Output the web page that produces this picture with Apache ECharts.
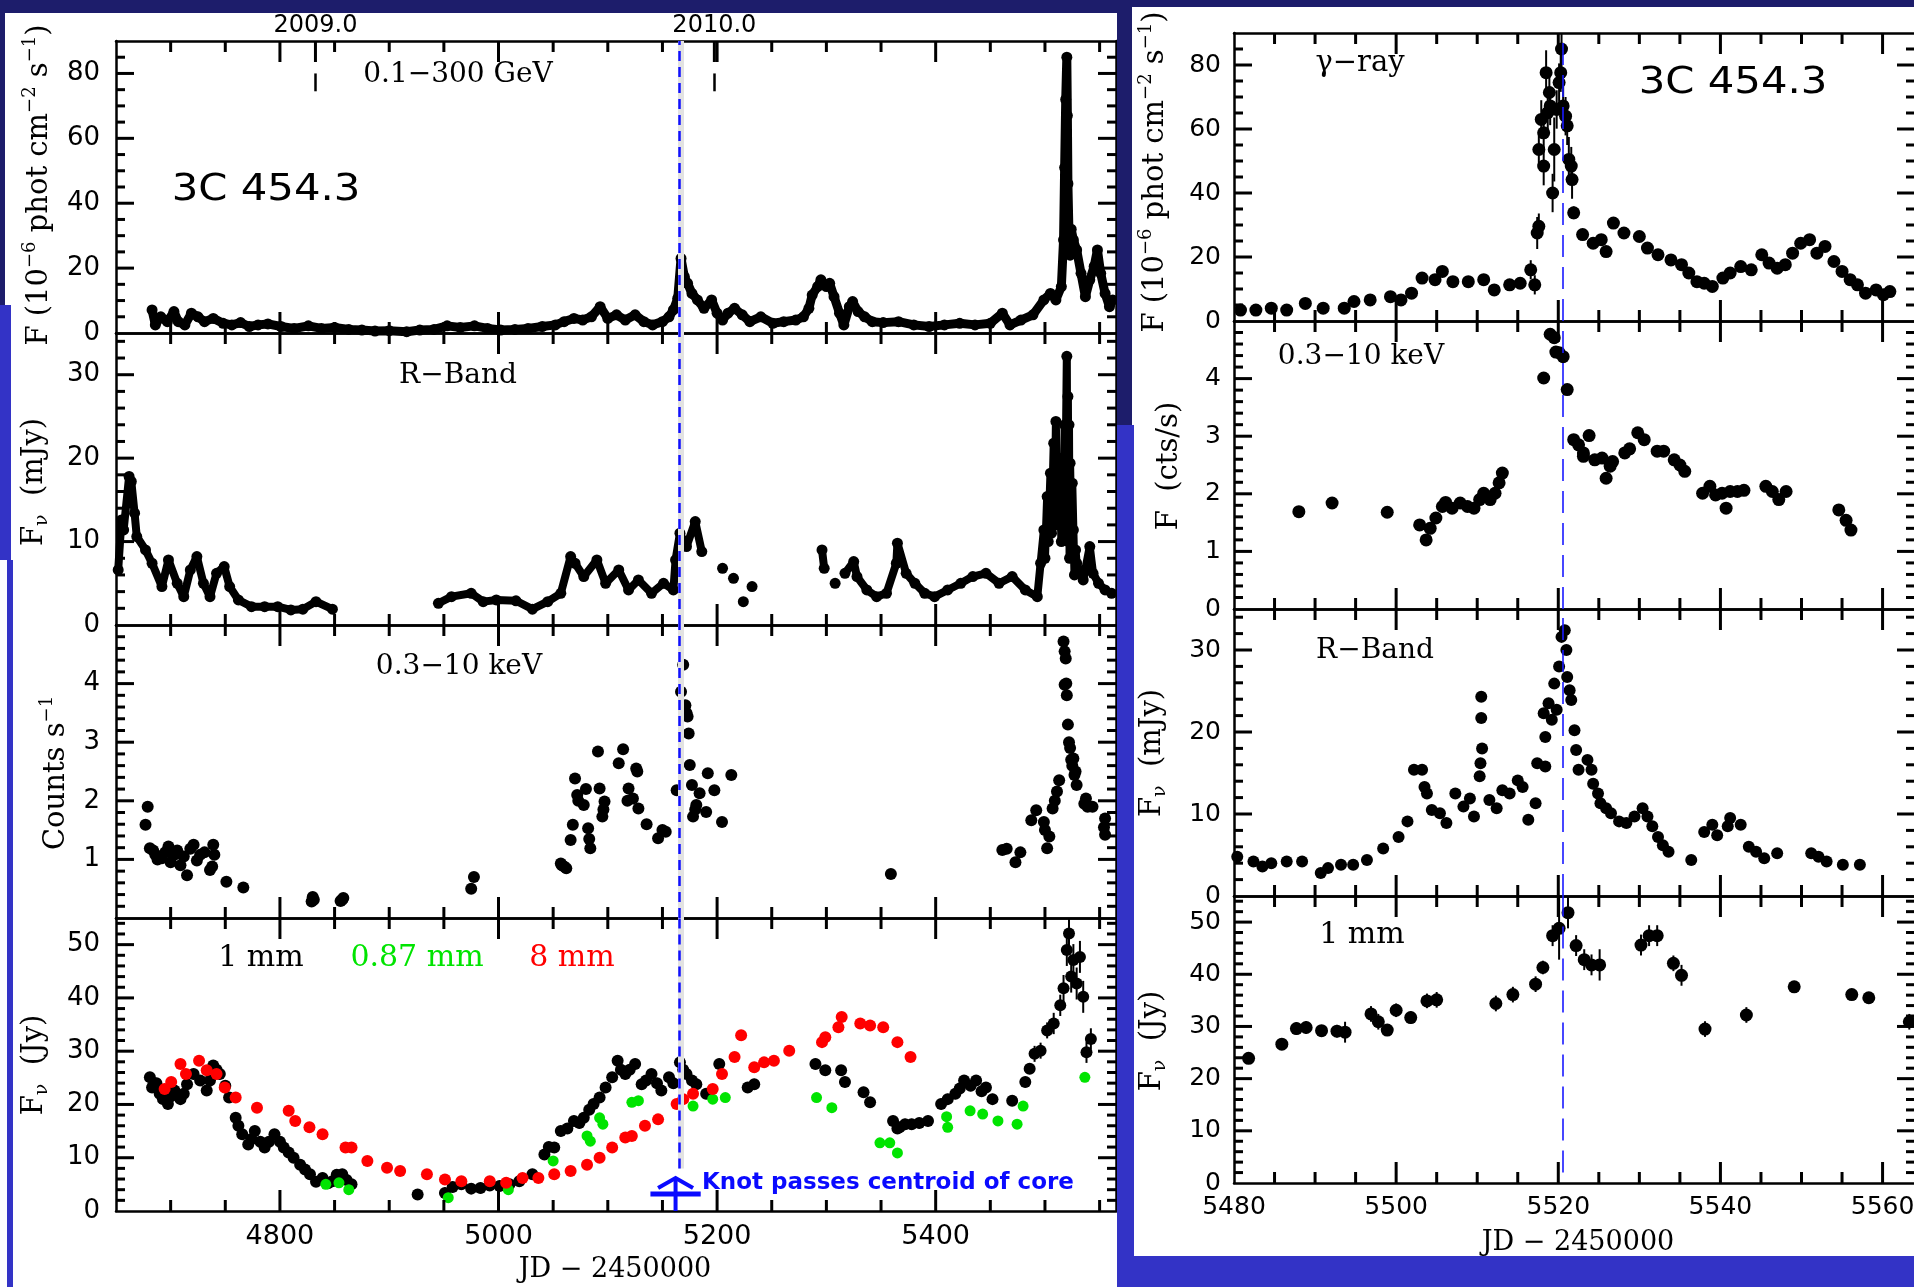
<!DOCTYPE html>
<html>
<head>
<meta charset="utf-8">
<title>3C 454.3 light curves</title>
<script src="https://cdn.jsdelivr.net/npm/echarts@6.0.0/dist/echarts.min.js"></script>
<style>
html,body{margin:0;padding:0;background:#ffffff;}
#chart{width:1914px;height:1287px;}
</style>
</head>
<body>
<div id="chart"></div>
<script>
// ================= DATA =================
const knotLeftJD = 5165;
const knotRightJD = 5520.5;
const yearTicksJD = [4832.5, 5197.5];
const yearLabels = ['2009.0', '2010.0'];

const leftXLabels = [4800, 5000, 5200, 5400];
const rightXLabels = [5480, 5500, 5520, 5540, 5560];
const gammaYLabels = [0, 20, 40, 60, 80];
const rbandYLabels = [0, 10, 20, 30];
const xrayLeftYLabels = [1, 2, 3, 4];
const xrayRightYLabels = [0, 1, 2, 3, 4];
const mmYLabels = [0, 10, 20, 30, 40, 50];

const gammaLeft = [[4683,7.1],[4686,2.5],[4691,5],[4697,3.5],[4703,6.6],[4707,3.5],[4713,2.5],[4719,6.1],[4725,5],[4731,3.5],[4739,4.5],[4748,3],[4756,2.5],[4764,3.2],[4772,2],[4780,2.5],[4789,2.8],[4801,2],[4813,1.4],[4826,2.2],[4838,1.4],[4850,1.7],[4863,1.1],[4875,0.9],[4887,0.6],[4900,0.7],[4916,0.4],[4928,0.9],[4941,1.1],[4953,2.2],[4965,1.7],[4978,2.2],[4990,1.4],[5002,0.9],[5015,1.1],[5027,1.4],[5040,2],[5052,2.5],[5060,3.5],[5069,4.5],[5077,4],[5085,5],[5093,8.1],[5100,4.5],[5108,5.6],[5116,4],[5125,5.6],[5133,3.5],[5141,2.5],[5150,3.5],[5156,5],[5160,7.1],[5164,10.7],[5167,23],[5170,17.4],[5173,15.3],[5177,12.2],[5182,10.2],[5188,7.6],[5195,10.2],[5200,6.1],[5205,4],[5210,6.1],[5216,7.6],[5223,5.6],[5230,3.5],[5240,5],[5251,3],[5261,3.5],[5272,4],[5279,5],[5284,7.6],[5287,11.7],[5292,14.3],[5295,16.4],[5300,14.3],[5303,15.3],[5307,11.2],[5312,6.1],[5316,2.5],[5321,8.1],[5324,9.7],[5329,6.6],[5335,5],[5342,3.5],[5352,3.2],[5366,3.5],[5380,2.5],[5394,2],[5408,2.5],[5422,3],[5436,2.5],[5450,3],[5461,6.1],[5468,2.5],[5478,4],[5489,5.6],[5499,10.2],[5505,12.2],[5510,10.2],[5515,14.3],[5517,28.7],[5518,51],[5519,72],[5520,85],[5520.5,67],[5521,46],[5522,30],[5523,24],[5524,32],[5526,28.7],[5529,25.6],[5533,18.4],[5537,11.2],[5541,16.4],[5545,20.5],[5548,25.6],[5551,18.4],[5555,12.2],[5559,8.1],[5562,10.2]];

const rbandLeft = [[4652,6.6],[4655,12.6],[4657,11.4],[4662,17.8],[4664,17.2],[4667,13.4],[4669,10.6],[4677,9],[4683,7.4],[4692,4.6],[4698,7.8],[4706,5],[4712,3.4],[4718,6.6],[4724,8.2],[4730,5],[4736,3.4],[4742,6.2],[4749,7],[4754,4.6],[4762,3],[4774,2.2],[4786,2.2],[4798,2.2],[4810,1.8],[4821,1.9],[4833,2.8],[4848,1.9],[4900,null],[4945,2.6],[4957,3.4],[4975,3.8],[4986,2.8],[4998,3],[5016,2.9],[5031,1.9],[5045,2.8],[5057,3.8],[5066,8.2],[5070,7.4],[5078,5.8],[5090,7.8],[5098,5],[5110,6.6],[5119,4.2],[5128,5.4],[5140,3.8],[5151,5],[5160,4.2],[5162,7.8],[5166,11],[5172,9.4],[5180,12.4],[5186,8.8],[5195,null],[5205,6.8],[5210,null],[5215,5.6],[5220,null],[5224,2.8],[5228,null],[5232,4.6],[5260,null],[5296,9],[5298,6.8],[5303,null],[5308,5],[5312,null],[5317,6.2],[5325,7.6],[5328,5.8],[5337,4.2],[5346,3.4],[5355,3.8],[5364,7.4],[5365,9.8],[5373,6.2],[5381,5],[5390,3.8],[5399,3.4],[5411,4.2],[5423,5],[5434,5.8],[5446,6.2],[5458,5],[5470,5.8],[5482,4.2],[5493,3.4],[5496,7.4],[5499,11.4],[5500,8],[5502,15.4],[5503,10],[5505,18.2],[5506,11],[5508,21.8],[5509,13],[5510,24.4],[5511,12],[5512,14],[5513,20],[5514,16.2],[5515,10],[5516,18],[5517,13],[5518,24],[5519,20],[5520,32.2],[5520.5,12],[5521,27.4],[5521.5,10],[5522,24],[5522.5,8],[5523,19.4],[5524,12],[5525,17],[5526,11.4],[5527,6],[5528,9],[5529,7.4],[5535,5.4],[5541,9.4],[5544,6.2],[5549,5],[5555,4.2],[5561,3.8]];

const xrayLeft = [[4677,1.59],[4679,1.9],[4681,1.19],[4684,1.15],[4686,1.08],[4688,1.0],[4692,1.02],[4695,1.12],[4698,1.22],[4700,0.95],[4703.5,1.08],[4706,1.15],[4709,0.9],[4712,1.05],[4715,0.73],[4718,1.18],[4721,1.25],[4724,0.98],[4727,1.08],[4731,1.12],[4736,0.82],[4739,1.25],[4740,1.08],[4738,0.88],[4751,0.62],[4766.5,0.52],[4829,0.28],[4830,0.36],[4831,0.31],[4855.5,0.29],[4858,0.34],[4857,0.31],[4975,0.5],[4977.5,0.7],[5057,0.93],[5058,0.9],[5060,0.88],[5062,0.85],[5066,1.33],[5068,1.59],[5072,2.1],[5070,2.38],[5073,2.0],[5078,1.93],[5080,2.2],[5082,1.53],[5084,1.19],[5083,1.35],[5091,2.84],[5092.5,2.21],[5097,1.99],[5095,1.73],[5096,1.85],[5110,2.64],[5114,2.88],[5119,2.21],[5118,2.0],[5123,2.04],[5127,2.5],[5126,2.55],[5128,1.87],[5135.5,1.6],[5146,1.36],[5153,1.47],[5150,1.5],[5163,2.18],[5167,3.86],[5169,4.32],[5171,3.63],[5172,3.5],[5173,3.44],[5174,3.15],[5175,2.61],[5177,2.27],[5181,1.93],[5184,2.13],[5178,1.73],[5180,1.85],[5190,1.81],[5191.5,2.47],[5197.5,2.18],[5204.5,1.64],[5213,2.44],[5359,0.75],[5461,1.16],[5465,1.18],[5473,0.95],[5477.5,1.12],[5487.5,1.67],[5492,1.84],[5499,1.64],[5500,1.5],[5502,1.19],[5504,1.39],[5507,1.87],[5509,2.0],[5511,2.16],[5513,2.35],[5517,4.72],[5518,4.55],[5519,4.43],[5518,3.98],[5519.5,4.0],[5520,3.8],[5521,3.3],[5522,3.0],[5523,2.9],[5524,2.7],[5526,2.72],[5527,2.44],[5529,2.27],[5528,2.5],[5525,2.6],[5537.5,2.04],[5536,1.95],[5539,1.9],[5543.5,1.9],[5555,1.7],[5555,1.42],[5554,1.55]];

const mm1Left = [[4681,25.1,1],[4683,23.2,1],[4687,24.0,1],[4690,22.0,1],[4693,21.0,1],[4697.5,20.1,1],[4700,21.5,1],[4703.5,22.6,1],[4709,21,1],[4712,22,1],[4715,23.8,1],[4721,25.7,1],[4727,24.5,1],[4733,22.6,1],[4736,24.5,1],[4739,27.3,1],[4742,26.5,1],[4745,25.7,1],[4750,23.5,1],[4753.5,21.3,1],[4759.5,17.5,1],[4762,16,1],[4765.5,14.4,1],[4771,12.5,1],[4774,13.5,1],[4777,15,1],[4782,13,1],[4786,11.9,1],[4790,13,1],[4795,14.4,1],[4800,13,1],[4803.5,11.9,1],[4808,11,1],[4812.5,10,1],[4818.5,8.7,1],[4823,7.8,1],[4827.5,6.9,1],[4833,5.5,1],[4839,6.2,1],[4844,5.2,1],[4848,5.6,1],[4852,6.8,1],[4857,6.9,1],[4861,5.8,1],[4865.5,5,1],[4926,3.1,1],[4951,3.4,1],[4958,4.5,1],[4966,5,1],[4975,4.2,1],[4983.5,4.3,1],[4992,4.8,1],[5001,4.7,1],[5010,5,1],[5019,5.6,1],[5031,6.9,1],[5042,10.6,1],[5046,12,1],[5051,11.9,1],[5057,15,1],[5063,15.5,1],[5069,16.9,1],[5074,16.5,1],[5078,17.5,1],[5083,19,1],[5087,20.1,1],[5092.5,21.3,1],[5098,23.2,1],[5104,25.1,1],[5109,28.2,1],[5112,26.5,1],[5116,25.7,1],[5120,26.5,1],[5125,27.6,1],[5131,23.8,1],[5135,24.5,1],[5140,25.7,1],[5145,24,1],[5149,22.6,1],[5156,25.1,1],[5160,24.0,1],[5166,27.9,1],[5169,26.5,1],[5172,25.7,1],[5177,24.5,1],[5181,23.8,1],[5190,22,1],[5202,27.6,1],[5228,23.2,1],[5234,23.8,1],[5290,27.6,1],[5299,26.4,1],[5313.5,26.4,1],[5317,24.2,1],[5334,22.3,1],[5340,20.4,1],[5361,16.9,1],[5365,15.5,1],[5367,15.7,1],[5372,16.3,1],[5378,16.3,1],[5385,16.5,1],[5393,16.9,1],[5405,20.1,1],[5411,21,1],[5418,22,1],[5422,23,1],[5426,24.5,1],[5432,23.5,1],[5437,24.5,1],[5442,22.5,1],[5446,23.2,1],[5452,21,1],[5470,20.7,1],[5482,24.2,1],[5486,26.7,1],[5490.5,29.5,1.5],[5496,30.1,1.5],[5502,33.9,1.5],[5508,35.2,2],[5514,38.6,2],[5517,41.8,2.5],[5520,49,3],[5522,52.1,3],[5524,44,3],[5526,47.1,3],[5529,42.7,3],[5532,47.7,3],[5535,40.2,3],[5538,29.8,2],[5542,32.3,2]];

const mm087Left = [[4842,5],[4854,5.3],[4863,4],[4954,2.5],[5009,4],[5050,9.4],[5081,14.1],[5084,13.1],[5092.5,17.5],[5095.5,16.3],[5122,20.4],[5128,20.7],[5178,19.7],[5196,21],[5207.5,21.3],[5291,21.3],[5305,19.4],[5349,12.8],[5358,12.8],[5365,10.9],[5410,17.7],[5411,15.7],[5431.5,18.8],[5443,18.2],[5457,16.9],[5474.5,16.3],[5480,19.7],[5536.5,25.1]];

const mm8Left = [[4694.5,22.9],[4700.5,24.2],[4709,27.6],[4714,25.7],[4726,28.2],[4733,26.4],[4742,25.7],[4749.5,23.2],[4759.5,21.3],[4779,19.4],[4808,18.8],[4814,16.9],[4827,15.7],[4839,14.4],[4860,11.9],[4865.5,11.9],[4880,9.4],[4898,8.1],[4910,7.5],[4934.5,6.9],[4951,5.9],[4966,5.6],[4992,5.6],[5007,5.3],[5022,6.2],[5036.5,6.2],[5051,6.9],[5066,7.5],[5081,8.7],[5092.5,10],[5104,11.9],[5116,13.8],[5122,14.1],[5134,16],[5146,17.2],[5163,20.1],[5169,21],[5178,22],[5196,22.9],[5204.5,25.7],[5216,28.9],[5222,33],[5234,27],[5243,27.9],[5252,28.2],[5266,30.1],[5296,31.7],[5299,32.6],[5311,34.5],[5314,36.4],[5331,35.2],[5340,34.8],[5352,34.5],[5365,31.7],[5377,28.9]];

const gammaRight = [[5480.8,3.4,0.5],[5482.7,3.4,0.5],[5484.6,4,0.5],[5486.5,3.4,0.5],[5488.8,5.5,0.5],[5491,4,0.5],[5493.6,4,0.5],[5494.8,6.1,0.5],[5496.8,6.6,0.5],[5499.3,7.6,0.5],[5500.6,6.6,0.5],[5501.9,8.7,1],[5503.2,13.4,1],[5504.8,12.9,1],[5505.7,15.5,1],[5507,12.3,1],[5508.9,12.3,1],[5510.8,12.9,1],[5512.1,9.7,1],[5514,11.3,1],[5515.3,11.8,1],[5516.6,16,3],[5517.1,11.3,3],[5517.4,27.5,5],[5517.6,29.6,4],[5517.6,53.6,6],[5517.9,63,6],[5518.2,48.4,6],[5518.2,58.8,6],[5518.5,77.6,7],[5518.7,65.1,6],[5518.9,71.4,7],[5519,67.2,6],[5519.3,40,6],[5519.5,53.6,10],[5519.8,66.1,6],[5520.1,74.5,6],[5520.3,77.6,6],[5520.4,85,8],[5520.6,67.2,6],[5520.9,64,6],[5521.1,61,6],[5521.3,50.5,7],[5521.6,48.4,6],[5521.7,44.2,6],[5521.9,33.8,2],[5523,27,1],[5524.3,24.3,1],[5525.3,25.4,1],[5525.9,21.7,1],[5526.8,30.6,1],[5528.1,27.5,1],[5530,26.4,1],[5531,22.8,1],[5532.3,20.7,1],[5533.9,19.1,1],[5535.2,17.6,1],[5536.1,15,1],[5537.1,12.3,1],[5538,11.8,1],[5539,10.8,1],[5540.3,13.4,1],[5541.2,15,1],[5542.5,17,1],[5543.8,16,1],[5545.1,20.7,1],[5546,18.1,1],[5547,16.5,1],[5548,17.6,1],[5548.9,21.2,1],[5549.9,24.3,1],[5551,25.4,1],[5551.9,21.2,1],[5552.9,23.3,1],[5554,18.6,1],[5555,15.5,1],[5556,12.9,1],[5556.9,11.3,1],[5557.9,8.7,1],[5559.2,9.7,1],[5560.1,8.2,1],[5560.9,9.2,1]];

const xrayRight = [[5488,1.69],[5492.1,1.84],[5498.9,1.68],[5502.9,1.46],[5503.7,1.2],[5504.2,1.4],[5504.9,1.58],[5505.7,1.78],[5506.1,1.85],[5506.9,1.75],[5507.9,1.84],[5508.8,1.78],[5509.6,1.75],[5510.3,1.9],[5510.8,2.01],[5511.6,1.9],[5512.2,2.01],[5512.7,2.19],[5513.1,2.36],[5518.2,4.01],[5519,4.77],[5519.5,4.71],[5519.7,4.46],[5520.1,4.45],[5520.6,4.38],[5521.1,3.81],[5521.9,2.94],[5522.5,2.85],[5523.1,2.71],[5523.8,3.01],[5523.1,2.65],[5524.5,2.59],[5525.4,2.62],[5525.9,2.27],[5526.4,2.48],[5526.7,2.56],[5528.2,2.71],[5528.8,2.78],[5529.8,3.06],[5530.6,2.94],[5532.2,2.74],[5533,2.74],[5534.3,2.59],[5535,2.5],[5535.6,2.39],[5537.8,2.01],[5538.7,2.13],[5539.4,1.98],[5540.2,2.01],[5540.7,1.75],[5541.2,2.04],[5542.1,2.04],[5542.9,2.06],[5545.6,2.13],[5546.4,2.04],[5547.2,1.9],[5548.1,2.04],[5554.6,1.72],[5555.5,1.54],[5556.1,1.37]];

const rbandRight = [[5480.4,4.8],[5482.4,4.2],[5483.5,3.6],[5484.6,4],[5486.5,4.2],[5488.4,4.2],[5490.7,2.8],[5491.6,3.4],[5493.2,3.8],[5494.7,3.8],[5496.4,4.4],[5498.4,5.8],[5500.3,7.2],[5501.4,9.1],[5502.2,15.4],[5503.2,15.4],[5503.5,13.3],[5503.8,12.5],[5504.4,10.5],[5505.4,10.1],[5506.2,8.9],[5507.3,12.5],[5508.3,10.9],[5509.1,11.9],[5509.6,9.7],[5510.5,24.3],[5510.5,21.7],[5510.6,18],[5510.4,16.2],[5510.3,14.6],[5511.5,11.7],[5512.4,10.7],[5513.1,12.9],[5514,12.5],[5515,14.1],[5515.6,13.3],[5516.3,9.3],[5517.2,11.3],[5517.4,16.2],[5518.4,15.8],[5518.2,22.3],[5518.4,19.4],[5518.8,23.5],[5519.2,21.5],[5519.5,25.9],[5519.8,22.7],[5520.1,28],[5520.4,31.6],[5520.8,32.4],[5521,30],[5521.1,26.7],[5521.4,25.1],[5521.6,23.9],[5522,20.2],[5522.2,17.8],[5522.5,15.4],[5523.6,16.6],[5524.1,15.4],[5524.3,13.7],[5524.9,12.5],[5525.2,11.3],[5525.9,10.7],[5526.5,10.1],[5527.5,9.1],[5528.4,8.9],[5529.4,9.7],[5530.4,10.7],[5531,9.7],[5531.6,8.5],[5532.3,7.2],[5532.9,6.2],[5533.6,5.4],[5536.4,4.4],[5538,7.8],[5539,8.7],[5539.6,7.4],[5540.9,8.5],[5541.2,9.5],[5542.5,8.7],[5543.5,6],[5544.4,5.4],[5545.4,4.6],[5547,5.2],[5551.2,5.2],[5552.1,4.8],[5553.1,4.2],[5555.1,3.8],[5557.2,3.8]];

const mm1Right = [[5481.8,23.9,1],[5485.9,26.6,1],[5487.7,29.6,1.2],[5488.9,29.8,1.2],[5490.8,29.2,1],[5492.7,29.1,1.2],[5493.7,28.9,2],[5496.9,32.4,1.5],[5497.8,30.9,1.5],[5498.9,29.3,1],[5500,33.1,1.3],[5501.8,31.7,1.2],[5503.8,34.9,1.4],[5505,35.1,1.5],[5512.3,34.4,1.5],[5514.4,36.1,1.5],[5517.2,38.1,1.5],[5518.1,41.3,1.3],[5519.3,47.4,2],[5520.1,48.8,6],[5521.2,51.8,3],[5522.2,45.5,2],[5523.2,42.8,2],[5524.1,41.8,2],[5525.1,41.8,3],[5530.2,45.6,2],[5531.2,47.4,2],[5532.2,47.4,2],[5534.2,42.1,1.5],[5535.2,39.8,2],[5538.1,29.5,1.5],[5543.2,32.2,1.5],[5549.1,37.6,1],[5556.2,36.1,1],[5558.3,35.5,1],[5563.3,30.9,1.5]];

const knotArrow = [[5162, 6.2]];

// ================= LAYOUT / STYLE =================
const SERIF = 'DejaVu Serif';
const SANS = 'DejaVu Sans';
const BLACK = '#000000';
const GREEN = '#00e400';
const RED = '#ff0000';
const KBLUE = '#1010ff';
const NAVY = '#1d1d6b';
const FRAME_BLUE = '#3333c6';

function range(a, b, s) {
  const out = []; const n = Math.round((b - a) / s);
  for (let i = 0; i <= n; i++) out.push(+(a + i * s).toFixed(4));
  return out;
}

const gridBoxes = [
  {left: 116, top: 41,  width: 1000, height: 292},
  {left: 116, top: 333, width: 1000, height: 292},
  {left: 116, top: 625, width: 1000, height: 293},
  {left: 116, top: 918, width: 1000, height: 293},
  {left: 1234, top: 33,  width: 681, height: 288},
  {left: 1234, top: 321, width: 681, height: 288},
  {left: 1234, top: 609, width: 681, height: 287},
  {left: 1234, top: 896, width: 681, height: 287}
];
const grids = gridBoxes.map(g => Object.assign({containLabel: false, outerBoundsMode: 'none', show: false}, g));

const LX = {min: 4650, max: 5565, minor: range(4700, 5550, 50), major: leftXLabels};
const RX = {min: 5480, max: 5564, minor: range(5485, 5560, 5), major: [5500, 5520, 5540, 5560]};

const Y = {
  gamma: {min: 0, max: 90, minor: range(5, 85, 5), major: [20, 40, 60, 80], labels: gammaYLabels},
  rband: {min: 0, max: 35, minor: range(2, 34, 2), major: [10, 20, 30], labels: rbandYLabels},
  xrayL: {min: 0, max: 5, minor: range(0.2, 4.8, 0.2), major: [1, 2, 3, 4], labels: xrayLeftYLabels},
  xrayR: {min: 0, max: 5, minor: range(0.2, 4.8, 0.2), major: [1, 2, 3, 4], labels: xrayRightYLabels},
  mm: {min: 0, max: 55, minor: range(2, 54, 2), major: [10, 20, 30, 40, 50], labels: mmYLabels}
};
const TICK = {xMinor: 11, xMajor: 21, yMinor: 9, yMajor: 18, w: 3};

const lineSt = {color: BLACK, width: 2.5};
const plain = v => String(v);

function xAxesFor(gi, X, labels, labelSize, yearTop) {
  const base = {type: 'value', gridIndex: gi, min: X.min, max: X.max, splitLine: {show: false}, axisTick: {show: false}};
  return [
    Object.assign({}, base, {position: 'bottom',
      axisLine: {show: true, onZero: false, lineStyle: lineSt},
      axisLabel: labels ? {show: true, customValues: labels, formatter: plain, fontSize: labelSize, fontFamily: SANS, color: BLACK, margin: 12} : {show: false}}),
    Object.assign({}, base, {position: 'top',
      axisLine: {show: true, onZero: false, lineStyle: lineSt},
      axisLabel: yearTop ? {show: true, customValues: yearTicksJD, margin: 3, fontSize: 24, fontFamily: SANS, color: BLACK,
        formatter: v => { let bi = 0; yearTicksJD.forEach((t, i) => { if (Math.abs(t - v) < Math.abs(yearTicksJD[bi] - v)) bi = i; }); return yearLabels[bi]; }} : {show: false}})
  ];
}
function yAxesFor(gi, YY, labelSize, margin) {
  const base = {type: 'value', gridIndex: gi, min: YY.min, max: YY.max, splitLine: {show: false}, axisTick: {show: false}};
  return [
    Object.assign({}, base, {position: 'left',
      axisLine: {show: true, onZero: false, lineStyle: lineSt},
      axisLabel: {show: true, customValues: YY.labels, formatter: plain, fontSize: labelSize, fontFamily: SANS, color: BLACK, margin: margin}}),
    Object.assign({}, base, {position: 'right',
      axisLine: {show: true, onZero: false, lineStyle: lineSt},
      axisLabel: {show: false}})
  ];
}

const xAxis = [].concat(
  xAxesFor(0, LX, null, 27, true), xAxesFor(1, LX, null, 27), xAxesFor(2, LX, null, 27), xAxesFor(3, LX, leftXLabels, 27),
  xAxesFor(4, RX, null, 25), xAxesFor(5, RX, null, 25), xAxesFor(6, RX, null, 25), xAxesFor(7, RX, rightXLabels, 25)
);
const yAxis = [].concat(
  yAxesFor(0, Y.gamma, 26, 16), yAxesFor(1, Y.rband, 26, 16), yAxesFor(2, Y.xrayL, 26, 16), yAxesFor(3, Y.mm, 26, 16),
  yAxesFor(4, Y.gamma, 25, 13), yAxesFor(5, Y.xrayR, 25, 13), yAxesFor(6, Y.rband, 25, 13), yAxesFor(7, Y.mm, 25, 13)
);

function toXY(arr) { return arr.map(p => [p[0], p[1] === null ? '-' : p[1]]); }

function knotItems(x, y0, y1, left) {
  if (left) {
    return [
      [{coord: [x + 1.5, y0], lineStyle: {color: '#e2e2e2', width: 6, type: 'solid'}}, {coord: [x + 1.5, y1]}],
      [{coord: [x, y0], lineStyle: {color: KBLUE, width: 2.5, type: [10, 6]}}, {coord: [x, y1]}]
    ];
  }
  return [[{coord: [x, y0], lineStyle: {color: '#1a1aff', width: 1.6, type: [22, 10]}}, {coord: [x, y1]}]];
}
function markOf(items) {
  return {silent: true, symbol: ['none', 'none'], label: {show: false}, animation: false,
    emphasis: {disabled: true}, data: items};
}

function band(gi, data, size, width, mark) {
  return {type: 'line', xAxisIndex: gi * 2, yAxisIndex: gi * 2, data: toXY(data), symbol: 'circle',
    symbolSize: size, showSymbol: true, showAllSymbol: true, connectNulls: false, silent: true,
    lineStyle: {color: BLACK, width: width, join: 'round', cap: 'round'}, itemStyle: {color: BLACK}, z: 3, markLine: mark};
}
function dots(gi, data, color, size, mark) {
  return {type: 'scatter', xAxisIndex: gi * 2, yAxisIndex: gi * 2, data: toXY(data), symbol: 'circle',
    symbolSize: size, silent: true, itemStyle: {color: color, opacity: 1}, z: 3, markLine: mark};
}
function errBars(gi, data, width) {
  return {type: 'custom', xAxisIndex: gi * 2, yAxisIndex: gi * 2, data: data, silent: true, clip: true, z: 2,
    renderItem: function (params, api) {
      const x = api.value(0), y = api.value(1), e = api.value(2);
      const a = api.coord([x, y - e]), b = api.coord([x, y + e]);
      return {type: 'line', shape: {x1: a[0], y1: a[1], x2: b[0], y2: b[1]}, style: {stroke: BLACK, lineWidth: width}};
    }};
}

// tick marks: one custom-series item per tick; each item = [x, y, dx(px), dy(px)] in the panel's data space
function buildTicks(gi, X, YY, extraTop) {
  const out = [];
  const xt = (v, len, bottom, top) => {
    if (bottom) out.push([v, YY.min, 0, -len]);
    if (top) out.push([v, YY.max, 0, len]);
  };
  const yt = (v, len) => { out.push([X.min, v, len, 0]); out.push([X.max, v, -len, 0]); };
  X.minor.forEach(v => { if (X.major.indexOf(v) < 0) xt(v, TICK.xMinor, true, true); });
  X.major.forEach(v => xt(v, TICK.xMajor, true, true));
  (extraTop || []).forEach(v => xt(v, TICK.xMajor, false, true));
  YY.minor.forEach(v => { if (YY.major.indexOf(v) < 0) yt(v, TICK.yMinor); });
  YY.major.forEach(v => yt(v, TICK.yMajor));
  return out;
}
function tickSeries(gi, X, YY, extraTop) {
  return {type: 'custom', xAxisIndex: gi * 2, yAxisIndex: gi * 2, data: buildTicks(gi, X, YY, extraTop),
    silent: true, clip: false, z: 6,
    encode: {x: 0, y: 1},
    renderItem: function (params, api) {
      const p = api.coord([api.value(0), api.value(1)]);
      const dx = api.value(2), dy = api.value(3);
      return {type: 'line', shape: {x1: p[0], y1: p[1], x2: p[0] + dx, y2: p[1] + dy},
        style: {stroke: BLACK, lineWidth: TICK.w}};
    }};
}

const yearSegments = yearTicksJD.map(t => [{coord: [t, 74.5], lineStyle: {color: BLACK, width: 2.5, type: 'solid'}}, {coord: [t, 80]}]);

const series = [
  band(0, gammaLeft, 11, 9, markOf(yearSegments.concat(knotItems(knotLeftJD, 0, 90, true)))),
  band(1, rbandLeft, 11, 8, markOf(knotItems(knotLeftJD, 0, 35, true))),
  dots(2, xrayLeft, BLACK, 12, markOf(knotItems(knotLeftJD, 0, 5, true))),
  errBars(3, mm1Left, 2),
  dots(3, mm1Left.map(p => [p[0], p[1]]), BLACK, 12, markOf(knotItems(knotLeftJD, 8, 55, true))),
  dots(3, mm087Left, GREEN, 11),
  dots(3, mm8Left, RED, 12),
  {type: 'custom', xAxisIndex: 6, yAxisIndex: 6, data: knotArrow, silent: true, clip: false, z: 5,
    renderItem: function (params, api) {
      const x = api.value(0), tip = api.value(1);
      const pT = api.coord([x, tip]), pB = api.coord([x, 0]);
      const pL = api.coord([x - 16, tip - 1.9]), pR = api.coord([x + 16, tip - 1.9]);
      const bL = api.coord([x - 23, 3.2]), bR = api.coord([x + 23, 3.2]);
      return {type: 'group', children: [
        {type: 'line', shape: {x1: pT[0], y1: pT[1], x2: pB[0], y2: pB[1]}, style: {stroke: '#0a0aff', lineWidth: 4}},
        {type: 'polyline', shape: {points: [pL, pT, pR]}, style: {stroke: '#0a0aff', lineWidth: 4, fill: null}},
        {type: 'line', shape: {x1: bL[0], y1: bL[1], x2: bR[0], y2: bR[1]}, style: {stroke: '#0a0aff', lineWidth: 5}}
      ]};
    }},
  errBars(4, gammaRight, 2),
  dots(4, gammaRight.map(p => [p[0], p[1]]), BLACK, 13, markOf(knotItems(knotRightJD, 0, 90, false))),
  dots(5, xrayRight, BLACK, 13, markOf(knotItems(knotRightJD, 0, 5, false))),
  dots(6, rbandRight, BLACK, 12, markOf(knotItems(knotRightJD, 0, 35, false))),
  errBars(7, mm1Right, 2),
  dots(7, mm1Right.map(p => [p[0], p[1]]), BLACK, 13, markOf(knotItems(knotRightJD, 2, 55, false))),
  tickSeries(0, LX, Y.gamma, yearTicksJD), tickSeries(1, LX, Y.rband), tickSeries(2, LX, Y.xrayL), tickSeries(3, LX, Y.mm),
  tickSeries(4, RX, Y.gamma), tickSeries(5, RX, Y.xrayR), tickSeries(6, RX, Y.rband), tickSeries(7, RX, Y.mm)
];

// ---------- text & frame graphics ----------
function txt(x, y, text, size, opts) {
  opts = opts || {};
  return {type: 'text', x: x, y: y, z: 50, rotation: opts.rot || 0, scaleX: opts.sx || 1, silent: true,
    style: {text: text, fontSize: size, fontFamily: opts.font || SERIF, fontWeight: opts.weight || 'normal',
      fill: opts.color || BLACK, align: opts.align || 'center', verticalAlign: 'middle', rich: opts.rich}};
}
const RICH = {
  a: {fontSize: 29, fontFamily: SERIF, lineHeight: 36},
  sup: {fontSize: 18, fontFamily: SERIF, lineHeight: 18, verticalAlign: 'top'},
  sub: {fontSize: 19, fontFamily: SERIF, lineHeight: 18, verticalAlign: 'bottom'}
};
const gammaTitle = '{a|F (10}{sup|\u22126}{a| phot cm}{sup|\u22122}{a| s}{sup|\u22121}{a|)}';
const fnuMJy = '{a|F}{sub|\u03bd}{a|  (mJy)}';
const fnuJy = '{a|F}{sub|\u03bd}{a|  (Jy)}';
const countsTitle = '{a|Counts s}{sup|\u22121}';
const ctsTitle = '{a|F  (cts/s)}';
const ROT = Math.PI / 2;

const graphicBase = [
  {type: 'rect', z: 60, silent: true, shape: {x: 0, y: 0, width: 1914, height: 7}, style: {fill: NAVY}},
  {type: 'rect', z: 60, silent: true, shape: {x: 0, y: 0, width: 1132, height: 13}, style: {fill: NAVY}},
  {type: 'rect', z: 60, silent: true, shape: {x: 1117, y: 0, width: 15, height: 425}, style: {fill: NAVY}},
  {type: 'rect', z: 60, silent: true, shape: {x: 1117, y: 425, width: 17, height: 862}, style: {fill: FRAME_BLUE}},
  {type: 'rect', z: 60, silent: true, shape: {x: 1117, y: 1256, width: 797, height: 31}, style: {fill: FRAME_BLUE}},
  {type: 'rect', z: 60, silent: true, shape: {x: 0, y: 0, width: 5, height: 305}, style: {fill: NAVY}},
  {type: 'rect', z: 60, silent: true, shape: {x: 0, y: 305, width: 11, height: 255}, style: {fill: FRAME_BLUE}},
  {type: 'rect', z: 60, silent: true, shape: {x: 7, y: 560, width: 6, height: 727}, style: {fill: FRAME_BLUE}},
  txt(39, 185, gammaTitle, 29, {rot: ROT, rich: RICH}),
  txt(34, 482, fnuMJy, 29, {rot: ROT, rich: RICH}),
  txt(56, 773, countsTitle, 29, {rot: ROT, rich: RICH}),
  txt(34, 1065, fnuJy, 29, {rot: ROT, rich: RICH}),
  txt(1155, 172, gammaTitle, 29, {rot: ROT, rich: RICH}),
  txt(1169, 466, ctsTitle, 29, {rot: ROT, rich: RICH}),
  txt(1152, 753, fnuMJy, 29, {rot: ROT, rich: RICH}),
  txt(1152, 1041, fnuJy, 29, {rot: ROT, rich: RICH}),
  txt(615, 1270, 'JD \u2212 2450000', 27),
  txt(1578, 1243, 'JD \u2212 2450000', 27),
  txt(458, 75, '0.1\u2212300 GeV', 28),
  txt(266, 190, '3C 454.3', 38, {font: SANS, sx: 1.1}),
  txt(458, 376, 'R\u2212Band', 28),
  txt(459, 667, '0.3\u221210 keV', 28),
  txt(261, 958, '1 mm', 30),
  txt(417, 958, '0.87 mm', 30, {color: GREEN}),
  txt(572, 958, '8 mm', 30, {color: RED}),
  txt(702, 1183, 'Knot passes centroid of core', 23, {font: SANS, weight: 'bold', color: '#0a0aff', align: 'left'}),
  txt(1360, 63, '\u03b3\u2212ray', 29),
  txt(1733, 83, '3C 454.3', 38, {font: SANS, sx: 1.1}),
  txt(1361, 357, '0.3\u221210 keV', 28),
  txt(1375, 651, 'R\u2212Band', 28),
  txt(1362, 935, '1 mm', 30)
];

const chart = echarts.init(document.getElementById('chart'), null, {renderer: 'canvas', width: 1914, height: 1287});
chart.setOption({
  animation: false,
  backgroundColor: '#ffffff',
  grid: grids,
  xAxis: xAxis,
  yAxis: yAxis,
  series: series,
  graphic: graphicBase
});
</script>
</body>
</html>
